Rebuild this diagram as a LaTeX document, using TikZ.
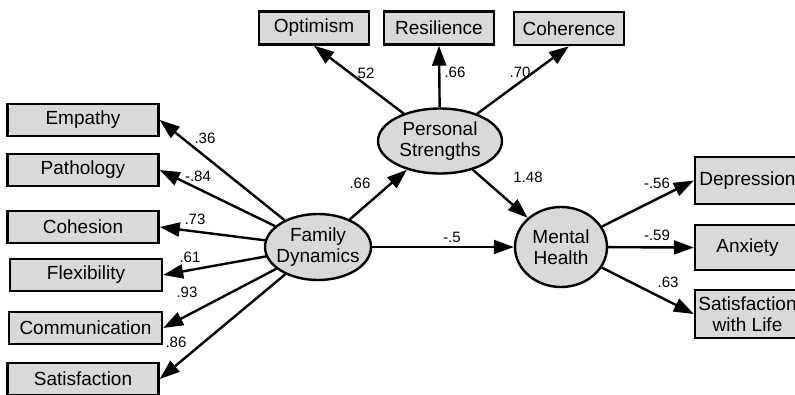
\documentclass[tikz,border=0pt]{standalone}
\usepackage{fontspec}
\setmainfont{Liberation Sans}
\usetikzlibrary{shapes.geometric,arrows.meta}
\tikzset{
  obs/.style={draw=black, line width=2.4pt, fill=black!15, inner sep=0pt,
    minimum height=32pt, font=\fontsize{19}{20.5}\selectfont, align=center},
  lat/.style={ellipse, draw=black, line width=2.4pt, fill=black!15, inner sep=-8pt,
    font=\fontsize{19}{20.5}\selectfont, align=center},
  conn/.style={line width=2.4pt, -{Triangle[length=20pt,width=14pt]}},
  lbl/.style={inner sep=0pt, font=\fontsize{15}{16}\selectfont}
}
\begin{document}
\begin{tikzpicture}[x=1pt,y=-1pt]
\useasboundingbox (0,0) rectangle (795,395);
\begin{scope}
\clip (0,0) rectangle (795,395);
% left indicators
\node[obs, minimum width=151pt] (emp) at (83,120) {Empathy};
\node[obs, minimum width=151pt] (pat) at (83,170) {Pathology};
\node[obs, minimum width=151pt] (coh) at (83,227) {Cohesion};
\node[obs, minimum width=152pt] (flex) at (86,275) {Flexibility};
\node[obs, minimum width=153pt] (com) at (85.5,328) {Communication};
\node[obs, minimum width=151pt] (sat) at (83,379) {Satisfaction};
% top indicators
\node[obs, minimum width=110pt, minimum height=33pt] (opt) at (314,28) {Optimism};
\node[obs, minimum width=110pt, minimum height=33pt] (res) at (439,28) {Resilience};
\node[obs, minimum width=110pt, minimum height=33pt] (cohe) at (569,28.5) {Coherence};
% right indicators
\node[obs, minimum width=105pt, minimum height=47pt] (dep) at (747.5,180.5) {Depression};
\node[obs, minimum width=105pt, minimum height=45pt] (anx) at (747.5,247.5) {Anxiety};
\node[obs, minimum width=105pt, minimum height=48pt] (swl) at (747.5,314) {Satisfaction\\with Life};
% latent variables
\node[lat, minimum width=106pt, minimum height=66pt] (fd) at (318,247) {Family\\Dynamics};
\node[lat, minimum width=124pt, minimum height=65pt] (ps) at (440,141) {Personal\\Strengths};
\node[lat, minimum width=92pt, minimum height=80pt] (mh) at (561,247) {Mental\\Health};
% connectors
\draw[conn] (fd) -- (emp.east);
\draw[conn] (fd) -- (pat.east);
\draw[conn] (fd) -- (coh.east);
\draw[conn] (fd) -- (flex.east);
\draw[conn] (fd) -- (com.east);
\draw[conn] (fd) -- (sat.east);
\draw[conn] (ps) -- (opt.south);
\draw[conn] (ps) -- (res.south);
\draw[conn] (ps) -- (cohe.south);
\draw[conn] (fd) -- (ps);
\draw[conn] (ps) -- (mh);
\draw[conn] (fd) -- (mh);
\draw[conn] (mh) -- (dep.west);
\draw[conn] (mh) -- (anx.west);
\draw[conn] (mh) -- (swl.west);
\end{scope}
% labels
\node[lbl] (l1) at (205,138) {.36};
\node[lbl] (l2) at (198,176) {-.84};
\node[lbl] (l3) at (195,219) {.73};
\node[lbl] (l4) at (190,257) {.61};
\node[lbl] (l5) at (187,292) {.93};
\node[lbl] (l6) at (176,342) {.86};
\node[lbl] (l7) at (364,73) {.52};
\node[lbl] (l8) at (455,72) {.66};
\node[lbl] (l9) at (520,72) {.70};
\node[lbl] (l10) at (360,183) {.66};
\node[lbl] (l11) at (528,177) {1.48};
\node[lbl] (l12) at (452,237) {-.5};
\node[lbl] (l13) at (657,183) {-.56};
\node[lbl] (l14) at (657,235) {-.59};
\node[lbl] (l15) at (668,282) {.63};
\end{tikzpicture}
\end{document}
